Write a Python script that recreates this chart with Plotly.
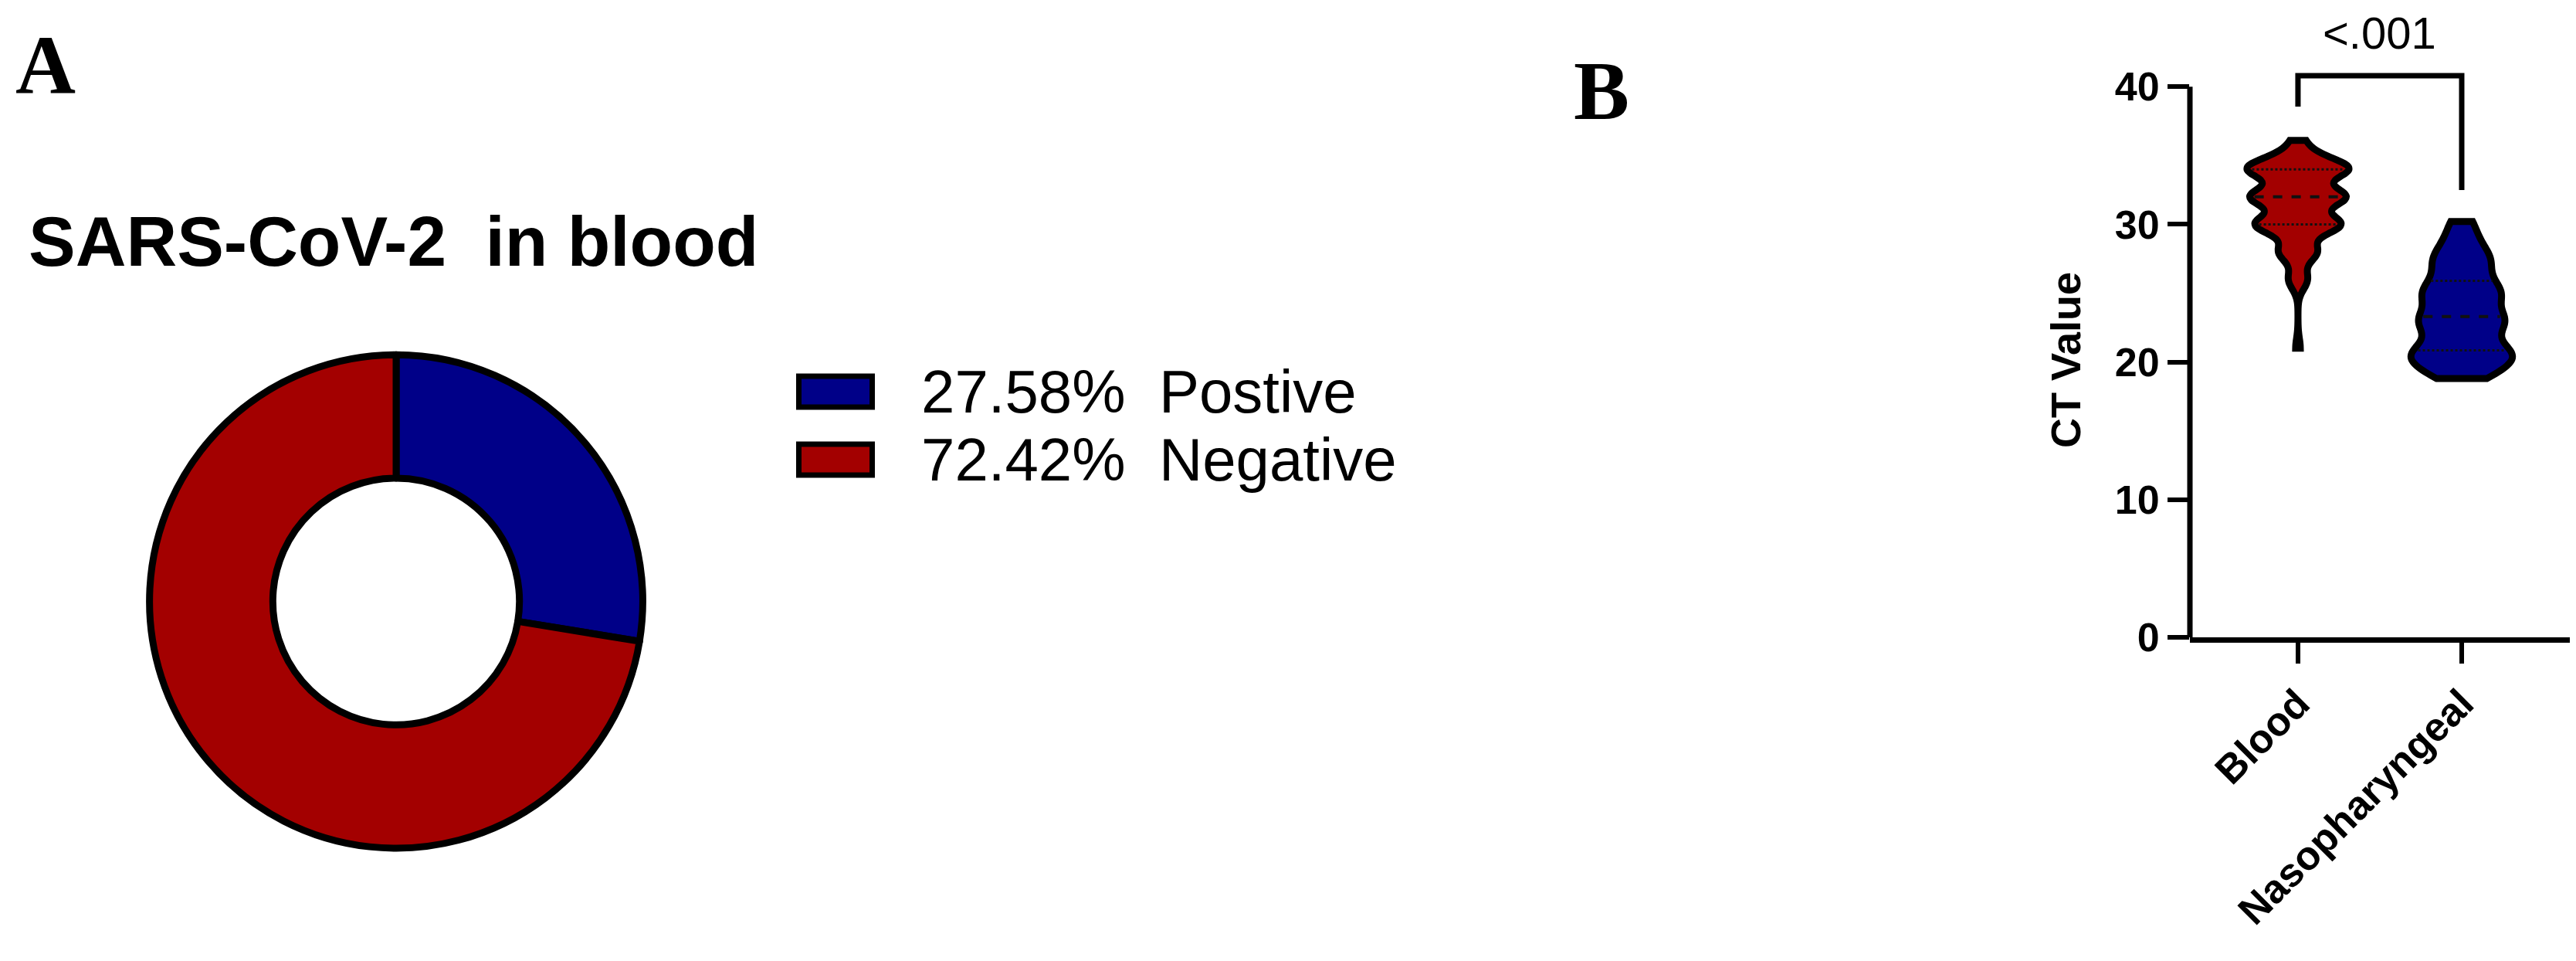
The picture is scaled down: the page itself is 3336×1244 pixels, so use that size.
import numpy as np
import plotly.graph_objects as go

# ---- panel A: SARS-CoV-2 in blood (percent of samples)
pie_labels = ['Postive', 'Negative']
pie_values = [27.58, 72.42]
pie_colors = ['#000088', '#A30000']

# ---- panel B: CT values per sample type
groups = ['Blood', 'Nasopharyngeal']
blood_ct = [21.0,
            26.0, 26.0, 26.0, 26.0,
            28.0, 28.0, 28.0, 28.0, 28.0, 28.0, 28.0, 28.0,
            30.0, 30.0, 30.0, 30.0, 30.0, 30.0, 30.0, 30.0, 30.0,
            30.0, 30.0, 30.0, 30.0, 30.0, 30.0, 30.0, 30.0, 30.0,
            32.0, 32.0, 32.0, 32.0, 32.0, 32.0, 32.0, 32.0, 32.0, 32.0,
            32.0, 32.0, 32.0, 32.0, 32.0, 32.0, 32.0, 32.0, 32.0, 32.0,
            34.0, 34.0, 34.0, 34.0, 34.0, 34.0, 34.0, 34.0, 34.0, 34.0,
            34.0, 34.0, 34.0, 34.0, 34.0, 34.0, 34.0, 34.0, 34.0, 34.0,
            35.0, 35.0, 35.0, 35.0,
            36.1, 36.1]
naso_ct = [18.8, 19.1, 19.5, 19.8, 20.1, 20.3,
           20.5, 20.7, 21.0, 21.3, 21.7, 22.1, 22.5, 22.8, 23.0,
           23.3, 23.6, 24.0, 24.4, 24.8, 25.0,
           25.3, 25.7, 26.1, 26.6, 27.1, 27.5,
           27.9, 28.5, 29.2, 30.2]
group_ct = [blood_ct, naso_ct]
group_colors = ['#A30000', '#000088']
bandwidths = [0.72, 0.7]
p_text = '<.001'

W, H = 3336, 1244
SANS = 'Liberation Sans, Arial, sans-serif'
SERIF = 'Liberation Serif, Times New Roman, serif'
VW = 0.62  # violin full width (x units)


def px(x):
    return x / W


def py(y):
    return 1 - y / H


def kde_half(vals, bw, at):
    # same gaussian kde + 'width' scaling that plotly's violin uses
    v = np.asarray(vals, dtype=float)
    n = int(np.ceil((v.max() - v.min()) / (bw / 3)))
    grid = np.linspace(v.min(), v.max(), n + 1)
    dens = lambda t: np.exp(-0.5 * ((np.asarray(t, dtype=float)[:, None] - v[None, :]) / bw) ** 2).sum(axis=1)
    return (VW / 2) * dens(at) / dens(grid).max()


fig = go.Figure()

fig.add_trace(go.Pie(
    labels=pie_labels, values=pie_values, hole=0.5, sort=False,
    direction='clockwise', rotation=0, textinfo='none',
    marker=dict(colors=pie_colors, line=dict(color='black', width=9)),
    domain=dict(x=[px(178), px(832)], y=[py(1116), py(462)]),
    showlegend=False,
))

for i, (name, vals) in enumerate(zip(groups, group_ct)):
    fig.add_trace(go.Violin(
        y=vals, x0=i, name=name, width=VW, scalemode='width',
        spanmode='hard', bandwidth=bandwidths[i], points=False,
        fillcolor=group_colors[i], opacity=1,
        line=dict(color='black', width=9),
        box_visible=False, meanline_visible=False,
        xaxis='x', yaxis='y', showlegend=False, hoverinfo='y',
    ))
    q = np.percentile(vals, [25, 50, 75])
    hw = kde_half(vals, bandwidths[i], q) * 0.9
    for k in range(3):
        fig.add_trace(go.Scatter(
            x=[i - hw[k], i + hw[k]], y=[q[k], q[k]], mode='lines',
            line=dict(color='#111111', width=4 if k == 1 else 3,
                      dash='dash' if k == 1 else 'dot'),
            showlegend=False, hoverinfo='skip', xaxis='x', yaxis='y',
        ))

shapes = []
annotations = []

# legend for the donut
for k, (lab, val, col) in enumerate(zip(pie_labels, pie_values, pie_colors)):
    yc = 511 + 90 * k
    shapes.append(dict(type='rect', xref='paper', yref='paper',
                       x0=px(1026.5), x1=px(1121.5), y0=py(yc + 20.5), y1=py(yc - 20.5),
                       fillcolor=col, line=dict(color='black', width=7)))
    annotations.append(dict(xref='paper', yref='paper', x=px(1183), y=py(yc),
                            xanchor='left', yanchor='middle', showarrow=False,
                            text=f'{val:.2f}%\u00a0\u00a0{lab}',
                            font=dict(family=SANS, size=78, color='black')))

annotations += [
    dict(xref='paper', yref='paper', x=px(27), y=py(312), xanchor='left', yanchor='middle',
         showarrow=False, text='SARS-CoV-2\u00a0\u00a0in blood',
         font=dict(family=SANS, size=91, color='black', weight='bold')),
    dict(xref='paper', yref='paper', x=px(10), y=py(78), xanchor='left', yanchor='middle',
         showarrow=False, text='A', font=dict(family=SERIF, size=108, color='black', weight='bold')),
    dict(xref='paper', yref='paper', x=px(2028), y=py(112), xanchor='left', yanchor='middle',
         showarrow=False, text='B', font=dict(family=SERIF, size=108, color='black', weight='bold')),
    dict(xref='paper', yref='paper', x=px(2667), y=py(469), xanchor='center', yanchor='middle',
         showarrow=False, text='CT Value', textangle=-90,
         font=dict(family=SANS, size=54, color='black', weight='bold')),
    dict(xref='x', yref='y', x=0.5, y=43.9, xanchor='center', yanchor='middle',
         showarrow=False, text=p_text, font=dict(family=SANS, size=58, color='black')),
]

# y axis line only up to 40, significance bracket above
shapes.append(dict(type='line', xref='x domain', yref='y', x0=0, x1=0, y0=0, y1=40,
                   line=dict(color='black', width=7)))
shapes.append(dict(type='path', xref='x', yref='y',
                   path='M 0,38.55 L 0,40.8 L 1,40.8 L 1,32.5',
                   line=dict(color='black', width=7)))

fig.update_layout(
    width=W, height=H, margin=dict(l=0, r=0, t=0, b=0),
    paper_bgcolor='white', plot_bgcolor='white', showlegend=False,
    violinmode='overlay',
    shapes=shapes, annotations=annotations,
    xaxis=dict(domain=[px(2828), px(3321)], range=[-0.66, 1.665],
               tickmode='array', tickvals=[0, 1], ticktext=groups, tickangle=-45,
               ticks='outside', ticklen=27, tickwidth=6, tickcolor='black',
               showline=True, linewidth=7, linecolor='black',
               showgrid=False, zeroline=False,
               tickfont=dict(family=SANS, size=52, color='black', weight='bold')),
    yaxis=dict(domain=[py(836.7), py(6.3)], range=[0, 45.5],
               tickmode='array', tickvals=[0, 10, 20, 30, 40],
               ticks='outside', ticklen=28, tickwidth=6, tickcolor='black',
               showline=False, showgrid=False, zeroline=False,
               tickfont=dict(family=SANS, size=52, color='black', weight='bold')),
)

fig.write_html('out.html')
